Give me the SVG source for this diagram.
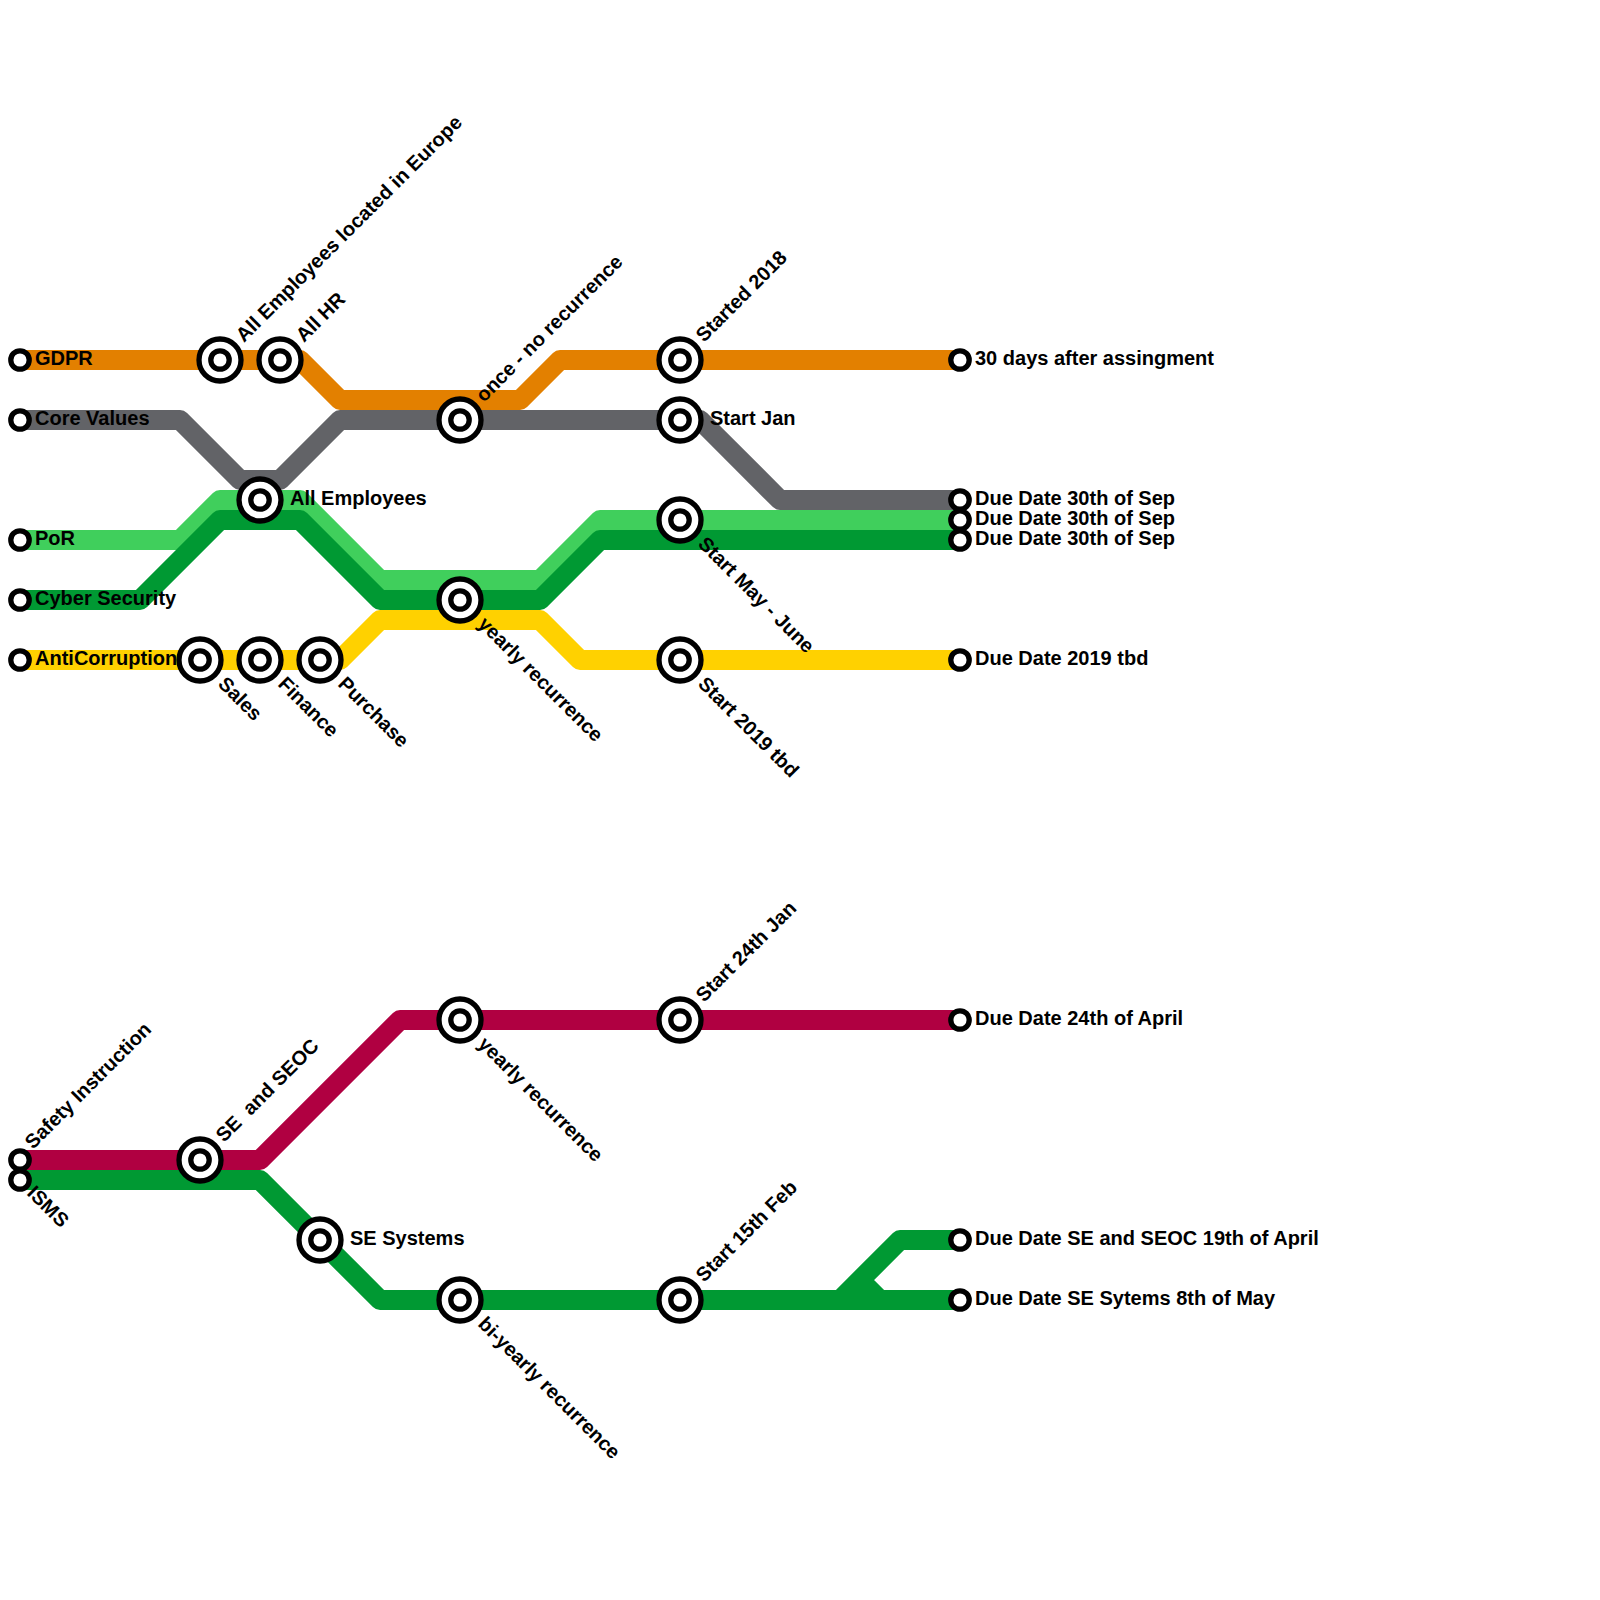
<svg xmlns="http://www.w3.org/2000/svg" width="1600" height="1600" viewBox="0 0 1600 1600">
<style>
.l{fill:none;stroke-width:20;stroke-linejoin:round;stroke-linecap:butt}
.o{fill:#fff;stroke:#000;stroke-width:5.3}
text{font-family:"Liberation Sans",Arial,sans-serif;font-weight:700;font-size:20px;fill:#000;white-space:pre}
</style>
<defs>
<g id="ix"><circle class="o" r="21"/><circle class="o" r="9.2"/></g>
<circle id="t" class="o" r="9.2"/>
</defs>
<g id="connectors">
<path class="l" stroke="#626367" d="M20 420H180L240 480H280L340 420H700L780 500H960"/>
<path class="l" stroke="#e38000" d="M20 360H300L340 400H520L560 360H960"/>
<path class="l" stroke="#ffd100" d="M20 660H340L380 620H540L580 660H960"/>
<path class="l" stroke="#40cf5c" d="M20 540H180L220 500H300L380 580H540L600 520H960"/>
<path class="l" stroke="#009933" d="M20 600H140L220 520H300L380 600H540L600 540H960"/>
<path class="l" stroke="#b00041" d="M20 1160H260L400 1020H960"/>
<path class="l" stroke="#009933" d="M20 1180H260L380 1300H960M840 1300L900 1240H960M860 1280L880 1300"/>
</g>
<g id="n-gdpr"><use href="#t" x="20" y="360"/><text x="35" y="365">GDPR</text></g>
<g id="n-core"><use href="#t" x="20" y="420"/><text x="35" y="425">Core Values</text></g>
<g id="n-por"><use href="#t" x="20" y="540"/><text x="35" y="545">PoR</text></g>
<g id="n-cyber"><use href="#t" x="20" y="600"/><text x="35" y="605">Cyber Security</text></g>
<g id="n-anti"><use href="#t" x="20" y="660"/><text x="35" y="665">AntiCorruption</text></g>
<g id="n-europe"><use href="#ix" x="220" y="360"/><text transform="translate(244 343) rotate(-45)">All Employees located in Europe</text></g>
<g id="n-hr"><use href="#ix" x="280" y="360"/><text transform="translate(304 343) rotate(-45)">All HR</text></g>
<g id="n-all"><use href="#ix" x="260" y="500"/><text x="290" y="505">All Employees</text></g>
<g id="n-once"><use href="#ix" x="460" y="420"/><text transform="translate(484 403) rotate(-45)">once - no recurrence</text></g>
<g id="n-2018"><use href="#ix" x="680" y="360"/><text transform="translate(704 343) rotate(-45)">Started 2018</text></g>
<g id="n-jan"><use href="#ix" x="680" y="420"/><text x="710" y="425">Start Jan</text></g>
<g id="n-may"><use href="#ix" x="680" y="520"/><text transform="translate(697 545) rotate(45)">Start May - June</text></g>
<g id="n-yearly"><use href="#ix" x="460" y="600"/><text transform="translate(477 625) rotate(45)">yearly recurrence</text></g>
<g id="n-sales"><use href="#ix" x="200" y="660"/><text transform="translate(217 685) rotate(45)">Sales</text></g>
<g id="n-finance"><use href="#ix" x="260" y="660"/><text transform="translate(277 685) rotate(45)">Finance</text></g>
<g id="n-purchase"><use href="#ix" x="320" y="660"/><text transform="translate(337 685) rotate(45)">Purchase</text></g>
<g id="n-2019"><use href="#ix" x="680" y="660"/><text transform="translate(697 685) rotate(45)">Start 2019 tbd</text></g>
<g id="n-e1"><use href="#t" x="960" y="360"/><text x="975" y="365">30 days after assingment</text></g>
<g id="n-e2"><use href="#t" x="960" y="500"/><text x="975" y="505">Due Date 30th of Sep</text></g>
<g id="n-e3"><use href="#t" x="960" y="520"/><text x="975" y="525">Due Date 30th of Sep</text></g>
<g id="n-e4"><use href="#t" x="960" y="540"/><text x="975" y="545">Due Date 30th of Sep</text></g>
<g id="n-e5"><use href="#t" x="960" y="660"/><text x="975" y="665">Due Date 2019 tbd</text></g>
<g id="n-safety"><use href="#t" x="20" y="1160"/><text transform="translate(33 1150) rotate(-45)">Safety Instruction</text></g>
<g id="n-isms"><use href="#t" x="20" y="1180"/><text transform="translate(26 1194) rotate(45)">ISMS</text></g>
<g id="n-seoc"><use href="#ix" x="200" y="1160"/><text transform="translate(224 1143) rotate(-45)">SE  and SEOC</text></g>
<g id="n-sesys"><use href="#ix" x="320" y="1240"/><text x="350" y="1245">SE Systems</text></g>
<g id="n-y2"><use href="#ix" x="460" y="1020"/><text transform="translate(477 1045) rotate(45)">yearly recurrence</text></g>
<g id="n-24"><use href="#ix" x="680" y="1020"/><text transform="translate(704 1003) rotate(-45)">Start 24th Jan</text></g>
<g id="n-bi"><use href="#ix" x="460" y="1300"/><text transform="translate(477 1325) rotate(45)">bi-yearly recurrence</text></g>
<g id="n-15"><use href="#ix" x="680" y="1300"/><text transform="translate(704 1283) rotate(-45)">Start 15th Feb</text></g>
<g id="n-e6"><use href="#t" x="960" y="1020"/><text x="975" y="1025">Due Date 24th of April</text></g>
<g id="n-e7"><use href="#t" x="960" y="1240"/><text x="975" y="1245">Due Date SE and SEOC 19th of April</text></g>
<g id="n-e8"><use href="#t" x="960" y="1300"/><text x="975" y="1305">Due Date SE Sytems 8th of May</text></g>
</svg>
